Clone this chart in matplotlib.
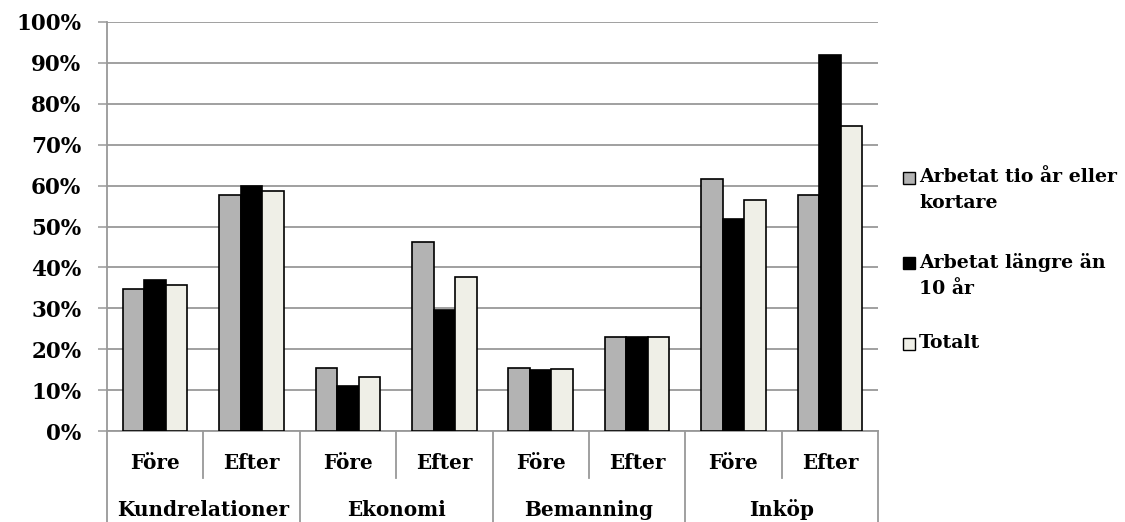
import matplotlib
matplotlib.use("Agg")
import matplotlib.pyplot as plt
import numpy as np
from matplotlib.patches import Rectangle

categories = ["Kundrelationer", "Ekonomi", "Bemanning", "Inköp"]
phases = ["Före", "Efter"]
series_names = ["Arbetat tio år eller\nkortare", "Arbetat längre än\n10 år", "Totalt"]
# values in percent, order: Kund Före, Kund Efter, Ek Före, Ek Efter, Bem Före, Bem Efter, Ink Före, Ink Efter
short = [34.6, 57.7, 15.4, 46.2, 15.4, 23.1, 61.5, 57.7]
long_ = [37.0, 60.0, 11.1, 29.6, 14.8, 23.1, 51.9, 92.0]
total = [35.8, 58.8, 13.2, 37.7, 15.1, 23.1, 56.6, 74.5]
yticks = [0, 10, 20, 30, 40, 50, 60, 70, 80, 90, 100]

colors = ["#b3b3b3", "#000000", "#efefe7"]
FONT = "DejaVu Serif"
FS = 14.4
FS_TICK = 15.5
FS_LEG = 13.6

fig = plt.figure(figsize=(11.25, 5.22), dpi=100)
ax = fig.add_axes([107/1125, 91/522, (878-107)/1125, 409/522])

n = len(short)
x = np.arange(n)
bw = 0.223
for i, (vals, c) in enumerate(zip([short, long_, total], colors)):
    ax.bar(x + (i - 1) * bw, vals, width=bw, color=c, edgecolor="black",
           linewidth=1.2, zorder=3)

ax.set_xlim(-0.5, n - 0.5)
ax.set_ylim(0, 100)
ax.set_yticks(yticks)
ax.set_yticklabels([f"{t}%" for t in yticks], fontfamily=FONT, fontweight="bold", fontsize=FS_TICK)
ax.yaxis.grid(True, color="#999999", linewidth=1.3, zorder=0)
ax.tick_params(axis="y", length=6.5, width=1.1, color="#999999", pad=12)
ax.set_xticks([])
for s in ["top", "right"]:
    ax.spines[s].set_visible(False)
for s in ["left", "bottom"]:
    ax.spines[s].set_color("#999999")
    ax.spines[s].set_linewidth(1.3)

# table-like x labels
trans = ax.get_xaxis_transform()
for k in range(n):
    ax.text(x[k], -0.078, phases[k % 2], transform=trans, ha="center", va="center",
            fontfamily=FONT, fontweight="bold", fontsize=FS)
for j, cat in enumerate(categories):
    ax.text(2 * j + 0.5, -0.193, cat, transform=trans, ha="center", va="center",
            fontfamily=FONT, fontweight="bold", fontsize=FS)
for k in range(n + 1):
    xb = k - 0.5
    y1 = -0.115 if k % 2 == 1 else -0.23
    ax.plot([xb, xb], [0, y1], transform=trans, color="#999999", linewidth=1.3,
            clip_on=False)

# legend drawn manually
items = [(colors[0], series_names[0], 178), (colors[1], series_names[1], 263), (colors[2], series_names[2], 344)]
for c, lab, ypx in items:
    fig.patches.append(Rectangle((903/1125, (522 - ypx - 6)/522), 12/1125, 12/522,
                                 transform=fig.transFigure, facecolor=c,
                                 edgecolor="black", linewidth=1.0))
    fig.text(919/1125, (522 - ypx + 10)/522, lab, ha="left", va="top",
             fontfamily=FONT, fontweight="bold", fontsize=FS_LEG, linespacing=1.55)

fig.savefig("out.png", dpi=100)
